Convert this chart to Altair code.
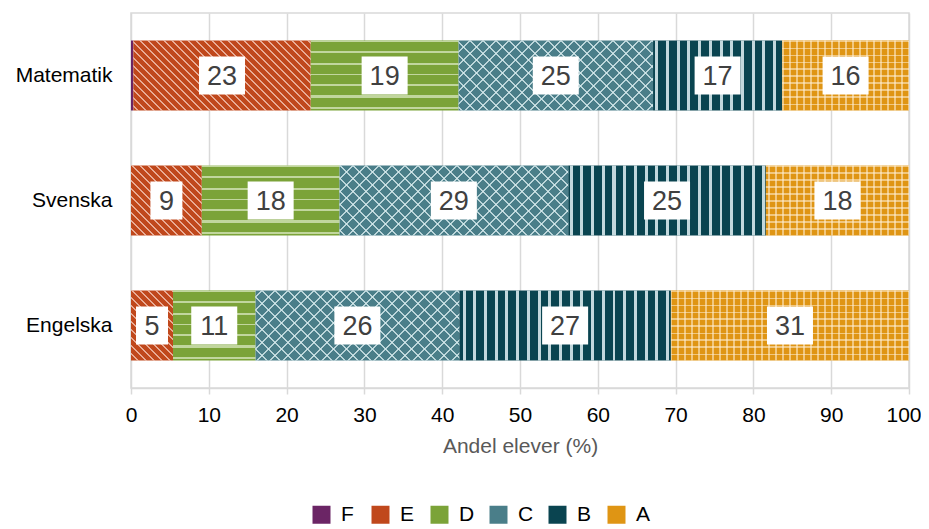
import math
import altair as alt
import pandas as pd

# ---------------- data ----------------
subjects = ["Matematik", "Svenska", "Engelska"]
grades = ["F", "E", "D", "C", "B", "A"]
matematik = [0.3, 22.8, 19.0, 25.0, 16.6, 16.3]
svenska = [0.0, 9.1, 17.7, 29.4, 25.4, 18.4]
engelska = [0.0, 5.4, 10.6, 26.2, 27.2, 30.6]
colors = ["#6B2565", "#C0481C", "#7BA338", "#4A7E89", "#0A4450", "#DF9514"]
x_ticks = [0, 10, 20, 30, 40, 50, 60, 70, 80, 90, 100]
x_title = "Andel elever (%)"

FONT = "Liberation Sans"
W, H = 778, 375
PAD_INNER, PAD_OUTER = 0.44, 0.22
step = H / (len(subjects) - PAD_INNER + 2 * PAD_OUTER)
BAR_H = step * (1 - PAD_INNER)

rows = []
for subj, vals in zip(subjects, [matematik, svenska, engelska]):
    s = 0.0
    for g, v in zip(grades, vals):
        if v > 0:
            lab = str(int(round(v))) if v >= 1 else ""
            rows.append(dict(subject=subj, grade=g, value=v, start=s, end=s + v,
                             mid=s + v / 2, label=lab, nd=len(lab),
                             key=f"{subj}-{g}"))
        s += v
df = pd.DataFrame(rows)

# ---------------- pattern helpers (style only) ----------------
CLEAR = "rgba(255,255,255,0)"


def stripe_stops(s_min, s_max, period, width, color):
    L = s_max - s_min
    stops = [{"offset": 0, "color": CLEAR}]
    k = math.floor(s_min / period) - 1
    while k * period < s_max:
        a, b = k * period, k * period + width
        k += 1
        if b <= s_min or a >= s_max:
            continue
        ta = round((max(a, s_min) - s_min) / L, 5)
        tb = round((min(b, s_max) - s_min) / L, 5)
        stops += [{"offset": ta, "color": CLEAR}, {"offset": ta, "color": color},
                  {"offset": tb, "color": color}, {"offset": tb, "color": CLEAR}]
    stops.append({"offset": 1, "color": CLEAR})
    return stops


def grad(kind, x0, x1, h, period, width, color):
    w = x1 - x0
    k = w * (w + h) / (w * w + h * h)
    if kind == "v":
        s_min, s_max, c = x0, x1, (0, 0, 1, 0)
    elif kind == "h":
        s_min, s_max, c = 0, h, (0, 0, 0, 1)
    elif kind == "bs":
        s_min, s_max, c = x0 - h, x1, (0, 1, k, 1 - k * h / w)
    else:  # "fs"
        s_min, s_max, c = x0, x1 + h, (0, 0, k, k * h / w)
    return {"gradient": "linear", "x1": c[0], "y1": c[1], "x2": c[2], "y2": c[3],
            "stops": stripe_stops(s_min, s_max, period, width, color)}


patterns = {
    "E": [("bs", 8.0, 2.4, "rgba(255,225,215,0.65)")],
    "D": [("h", 11.0, 2.0, "rgba(240,248,225,0.60)")],
    "C": [("bs", 13.0, 2.0, "rgba(215,235,238,0.80)"),
          ("fs", 13.0, 2.0, "rgba(215,235,238,0.80)")],
    "B": [("v", 10.7, 3.0, "rgba(215,232,236,0.90)")],
    "A": [("v", 7.0, 1.8, "rgba(255,240,215,0.55)"),
          ("h", 7.0, 1.8, "rgba(255,240,215,0.55)")],
}

# ---------------- chart ----------------
x_scale = alt.Scale(domain=[0, 100], nice=False)
x_axis = alt.Axis(values=x_ticks, title=x_title, titleFontSize=21,
                  titleColor="#595959", titleFontWeight="normal",
                  titleFont=FONT, titlePadding=10, labelFontSize=21,
                  labelColor="black", labelFont=FONT, labelPadding=10,
                  labelFlush=False,
                  labelAlign={"condition": {"test": "datum.value == 100",
                                            "value": "right"},
                              "value": "center"},
                  labelOffset={"condition": {"test": "datum.value == 100",
                                             "value": 12},
                               "value": 0},
                  tickSize=6, tickColor="#d9d9d9",
                  tickWidth=1.5, domainColor="#d9d9d9", domainWidth=1.5,
                  grid=True, gridColor="#d9d9d9", gridWidth=1.5)
y_axis = alt.Axis(title=None, labelFontSize=21, labelColor="black",
                  labelFont=FONT, ticks=False, tickSize=0, domain=False,
                  labelPadding=19, grid=False)
y_scale = alt.Scale(paddingInner=PAD_INNER, paddingOuter=PAD_OUTER)


def Y():
    return alt.Y("subject:N", sort=subjects, scale=y_scale, axis=y_axis)


def X(field):
    return alt.X(field, scale=x_scale, axis=x_axis, title=x_title)


base = alt.Chart(df).mark_bar().encode(
    y=Y(), x=X("start:Q"), x2="end:Q",
    color=alt.Color("grade:N", scale=alt.Scale(domain=grades, range=colors),
                    legend=alt.Legend(orient="none", legendX=180, legendY=491,
                                      direction="horizontal", title=None,
                                      symbolType="square", symbolSize=324,
                                      symbolStrokeWidth=0, labelFontSize=21,
                                      labelFont=FONT, labelColor="black",
                                      labelOffset=9, labelBaseline="middle",
                                      columnPadding=13, gridAlign="all",
                                      columns=6)),
)

layers = [base]
for r in rows:
    if r["grade"] not in patterns:
        continue
    x0 = r["start"] / 100 * W
    x1 = r["end"] / 100 * W
    for kind, period, width, col in patterns[r["grade"]]:
        g = grad(kind, x0, x1, BAR_H, period, width, col)
        layers.append(
            alt.Chart(df).transform_filter(alt.datum.key == r["key"])
            .mark_bar(fill=g, strokeWidth=0)
            .encode(y=Y(), x=X("start:Q"), x2="end:Q")
        )

box2 = alt.Chart(df).transform_filter(alt.datum.nd == 2).mark_point(
    shape="M-1,-0.826L1,-0.826L1,0.826L-1,0.826Z", size=46 * 46, filled=True,
    fill="white", opacity=1, strokeWidth=0,
).encode(y=Y(), x=X("mid:Q"))

box1 = alt.Chart(df).transform_filter(alt.datum.nd == 1).mark_point(
    shape="M-0.842,-1L0.842,-1L0.842,1L-0.842,1Z", size=38 * 38, filled=True,
    fill="white", opacity=1, strokeWidth=0,
).encode(y=Y(), x=X("mid:Q"))

text = alt.Chart(df).transform_filter(alt.datum.nd > 0).mark_text(
    fontSize=27, color="#404040", font=FONT, baseline="middle", dy=1.5,
).encode(y=Y(), x=X("mid:Q"), text="label:N")

layers += [box2, box1, text]

chart = alt.layer(*layers).properties(
    width=W, height=H,
    autosize=alt.AutoSizeParams(type="none"),
    padding={"left": 123, "top": 5, "right": 12, "bottom": 143},
    background="white",
).configure_view(stroke="#d9d9d9", strokeWidth=1.5)

chart.save("out.html", embed_options={"renderer": "svg", "actions": False})
